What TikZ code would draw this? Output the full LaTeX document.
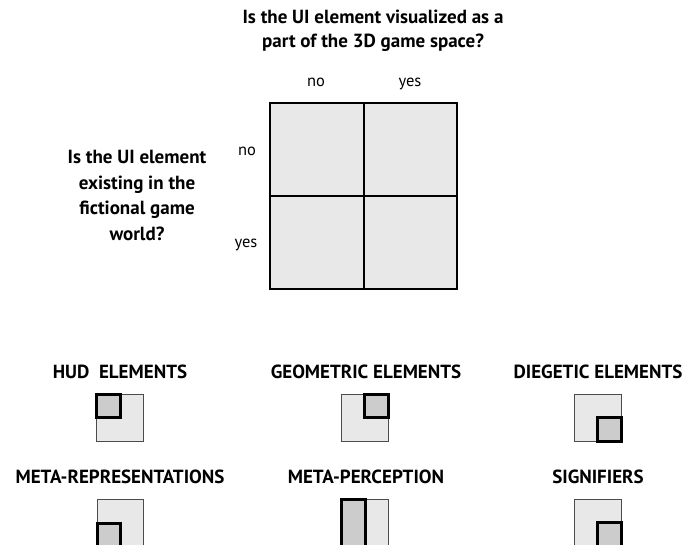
\documentclass[tikz,border=0pt]{standalone}
\usepackage{fontspec}
\setmainfont{PT Sans}
\begin{document}
\begin{tikzpicture}[x=1pt,y=-1pt,
  q/.style={font=\bfseries\fontsize{19}{25.5}\selectfont, align=center, inner sep=0pt},
  lbl/.style={font=\fontsize{16.5}{18}\selectfont, inner sep=0pt, anchor=base},
  head/.style={font=\bfseries\fontsize{19}{22}\selectfont, inner sep=0pt},
  big/.style={draw=black!70, line width=0.9pt, fill=black!9},
  small/.style={draw=black, line width=3pt, fill=black!20}]
\useasboundingbox (0,0) rectangle (682,544);
% title
\node[q] (t1) at (373,17) {Is the UI element visualized as a};
\node[q] (t2) at (373,43) {part of the 3D game space?};
\node[lbl] (cno) at (316,86) {no};
\node[lbl] (cyes) at (410,86) {yes};
% left question
\node[q] (lq) at (137,195.5) {Is the UI element\\existing in the\\fictional game\\world?};
\node[lbl] (rno) at (247,155) {no};
\node[lbl] (ryes) at (246,247) {yes};
% grid
\fill[black!9] (270,103) rectangle (457,289);
\draw[line width=2pt] (270,103) rectangle (457,289);
\draw[line width=2pt] (363.5,103) -- (363.5,289);
\draw[line width=2pt] (270,196) -- (457,196);
% row 1
\node[head] (hud) at (120,372) {HUD\ \ ELEMENTS};
\draw[big] (96,394) rectangle (143,441);
\draw[small] (96,394) rectangle (120,417);
\node[head] (geo) at (366,372) {GEOMETRIC ELEMENTS};
\draw[big] (341,394) rectangle (388,441);
\draw[small] (364,394) rectangle (388,417);
\node[head] (die) at (598,372) {DIEGETIC ELEMENTS};
\draw[big] (574,394) rectangle (621,441);
\draw[small] (597,417) rectangle (621,441);
% row 2
\node[head] (meta) at (120,477) {META-REPRESENTATIONS};
\draw[big] (97,499) rectangle (143,546);
\draw[small] (97,523) rectangle (120,546);
\node[head] (perc) at (366,477) {META-PERCEPTION};
\draw[big] (341,499) rectangle (388,546);
\draw[small] (341,499) rectangle (365,546);
\node[head] (sig) at (598,477) {SIGNIFIERS};
\draw[big] (574,499) rectangle (621,546);
\draw[small] (597,522) rectangle (621,546);
\end{tikzpicture}
\end{document}
